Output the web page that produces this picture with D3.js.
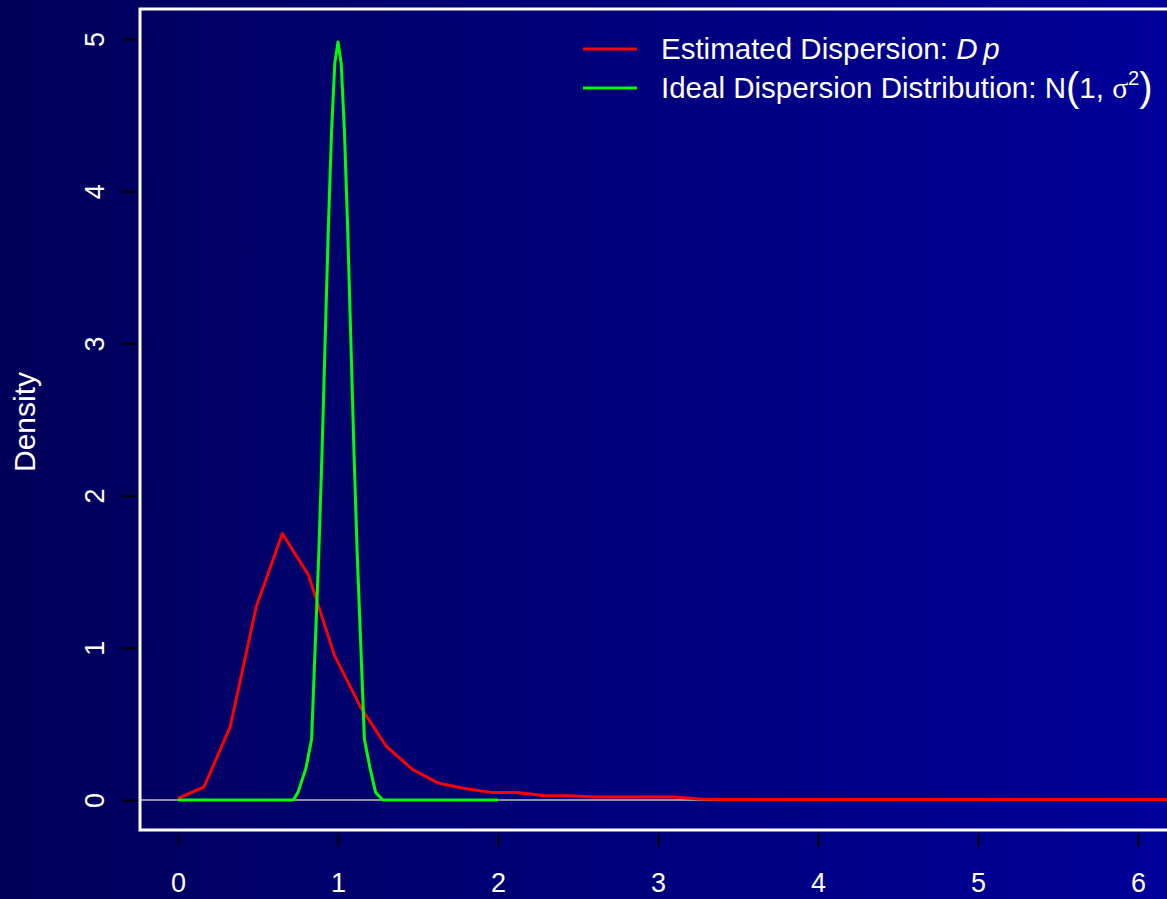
<!DOCTYPE html>
<html>
<head>
<meta charset="utf-8">
<script src="https://cdn.jsdelivr.net/npm/d3@7"></script>
<style>
  html, body { margin: 0; padding: 0; background: #000060; overflow: hidden; }
  text { font-family: "Liberation Sans", Arial, sans-serif; fill: #ffffff; }
</style>
</head>
<body>
<div id="chart"></div>
<script>
// values
const xTicks = [0, 1, 2, 3, 4, 5, 6];
const yTicks = [0, 1, 2, 3, 4, 5];

const estX = [0, 0.163, 0.326, 0.489, 0.652, 0.815, 0.978, 1.141, 1.304, 1.467, 1.63, 1.793, 1.956,
  2.119, 2.282, 2.445, 2.608, 2.771, 2.934, 3.097, 3.26, 3.42, 4.0, 4.5, 5.0, 5.5, 6.0, 6.52];
const estY = [0.01, 0.087, 0.48, 1.27, 1.75, 1.48, 0.95, 0.61, 0.35, 0.20, 0.11, 0.075, 0.05,
  0.05, 0.03, 0.028, 0.02, 0.02, 0.02, 0.02, 0.006, 0.004, 0.004, 0.004, 0.004, 0.004, 0.004, 0.004];

const idealX = [0, 0.72, 0.75, 0.80, 0.835, 0.86, 0.88, 0.90, 0.92, 0.94, 0.96, 0.98, 1.00,
  1.02, 1.04, 1.06, 1.08, 1.10, 1.12, 1.14, 1.165, 1.20, 1.235, 1.28, 2.0];
const idealY = [0, 0, 0.05, 0.21, 0.40, 1.08, 1.62, 2.28, 3.03, 3.77, 4.40, 4.84, 4.98,
  4.84, 4.40, 3.77, 3.03, 2.28, 1.62, 1.08, 0.40, 0.21, 0.05, 0, 0];

const width = 1167, height = 899;

const svg = d3.select("#chart").append("svg")
  .attr("width", width)
  .attr("height", height);

// background gradient, darker on the left
const defs = svg.append("defs");
const grad = defs.append("linearGradient").attr("id", "bg")
  .attr("x1", "0%").attr("y1", "0%").attr("x2", "100%").attr("y2", "0%");
grad.append("stop").attr("offset", "0%").attr("stop-color", "#00005a");
grad.append("stop").attr("offset", "100%").attr("stop-color", "#00009a");
svg.append("rect").attr("width", width).attr("height", height).attr("fill", "url(#bg)");

let x = d3.scaleLinear().domain([0, 6]).range([178, 1138]);
let y = d3.scaleLinear().domain([0, 5]).range([800, 39]);

//zero line
svg.append("line")
  .attr("x1", 140).attr("x2", width)
  .attr("y1", y(0)).attr("y2", y(0))
  .attr("stroke", "#c0c0c0").attr("stroke-width", 1.5);

let line = d3.line().x(d => x(d[0])).y(d => y(d[1]));

svg.append("path")
  .datum(d3.zip(estX, estY))
  .attr("d", line)
  .attr("fill", "none").attr("stroke", "#ff0000").attr("stroke-width", 3)
  .attr("stroke-linejoin", "round");

svg.append("path")
  .datum(d3.zip(idealX, idealY))
  .attr("d", line)
  .attr("fill", "none").attr("stroke", "#00ff00").attr("stroke-width", 3)
  .attr("stroke-linejoin", "round");

// plot box
svg.append("rect")
  .attr("x", 140).attr("y", 9)
  .attr("width", 1100).attr("height", 821)
  .attr("fill", "none").attr("stroke", "#ffffff").attr("stroke-width", 3);

// x axis
let xAxis = svg.append("g").attr("transform", "translate(0,833)")
  .call(d3.axisBottom(x).tickValues(xTicks).tickFormat(d3.format("d")).tickSize(14).tickSizeOuter(0));
xAxis.select(".domain").remove();
xAxis.selectAll(".tick line").attr("stroke", "#000000").attr("stroke-width", 2);
xAxis.selectAll(".tick text")
  .attr("fill", "#ffffff").attr("y", 40).attr("dy", "0.71em")
  .style("font-size", "27px").style("font-family", "Liberation Sans, Arial, sans-serif");

// y axis
let yAxis = svg.append("g").attr("transform", "translate(137,0)")
  .call(d3.axisLeft(y).tickValues(yTicks).tickFormat(d3.format("d")).tickSize(15).tickSizeOuter(0));
yAxis.select(".domain").remove();
yAxis.selectAll(".tick line").attr("stroke", "#000000").attr("stroke-width", 2);
yAxis.selectAll(".tick text")
  .attr("fill", "#ffffff")
  .attr("x", null).attr("dy", null)
  .attr("text-anchor", "middle")
  .attr("transform", "translate(-33,0) rotate(-90)")
  .style("font-size", "27px").style("font-family", "Liberation Sans, Arial, sans-serif");

svg.append("text")
  .attr("transform", "translate(35,422) rotate(-90)")
  .attr("text-anchor", "middle")
  .style("font-size", "30px")
  .text("Density");

// legend
let legend = svg.append("g");
legend.append("line")
  .attr("x1", 583).attr("x2", 637).attr("y1", 49).attr("y2", 49)
  .attr("stroke", "#ff0000").attr("stroke-width", 3);
legend.append("line")
  .attr("x1", 583).attr("x2", 637).attr("y1", 88).attr("y2", 88)
  .attr("stroke", "#00ff00").attr("stroke-width", 3);

let t1 = legend.append("text").attr("x", 661).attr("y", 59).style("font-size", "29.5px");
t1.append("tspan").text("Estimated Dispersion: ");
t1.append("tspan").style("font-style", "italic").text("D\u2009p");

let t2 = legend.append("text").attr("x", 661).attr("y", 98).style("font-size", "29.5px");
t2.append("tspan").text("Ideal Dispersion Distribution: N");
t2.append("tspan").style("font-size", "40px").attr("dy", 3).text("(");
t2.append("tspan").attr("dy", -3).text("1, ");
t2.append("tspan").style("font-family", "Liberation Serif, serif").text("\u03c3");
t2.append("tspan").attr("dy", -13).style("font-size", "20px").text("2");
t2.append("tspan").attr("dy", 16).style("font-size", "40px").text(")");
</script>
</body>
</html>
